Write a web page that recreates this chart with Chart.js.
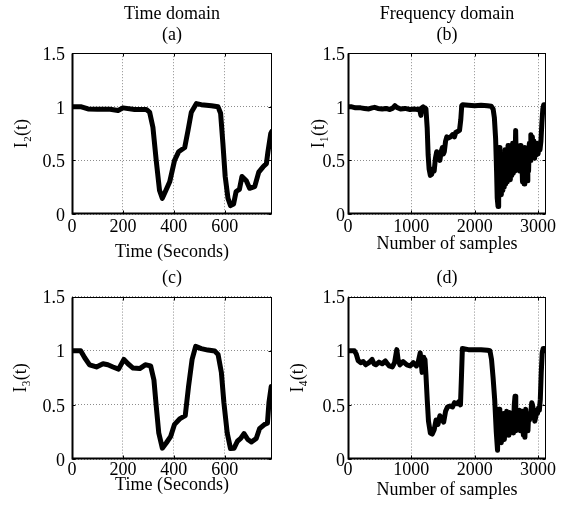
<!DOCTYPE html>
<html>
<head>
<meta charset="utf-8">
<script src="https://cdn.jsdelivr.net/npm/chart.js@4"></script>
<style>
  body { margin: 0; background: #fff; }
  #wrap { position: relative; width: 571px; height: 508px; }
  canvas { position: absolute; }
</style>
</head>
<body>
<div id="wrap">
  <canvas id="ga" width="286" height="266" style="left:0;top:0"></canvas>
  <canvas id="gb" width="285" height="266" style="left:286px;top:0"></canvas>
  <canvas id="gc" width="286" height="246" style="left:0;top:262px"></canvas>
  <canvas id="gd" width="285" height="246" style="left:286px;top:262px"></canvas>
</div>
<script>
// (a) time domain, I2(t)
const tA = [0, 37, 63, 100, 150, 181, 200, 246, 292, 305, 318, 331, 344, 355, 367, 384, 403, 419, 443, 456, 469, 489, 508, 548, 574, 584, 593, 602, 613, 623, 635, 645, 658, 668, 685, 698, 718, 734, 751, 764, 770, 781, 785];
const i2 = [1.0, 1.0, 0.98, 0.978, 0.978, 0.966, 0.99, 0.975, 0.975, 0.95, 0.81, 0.5, 0.22, 0.146, 0.21, 0.30, 0.50, 0.58, 0.62, 0.78, 0.95, 1.03, 1.02, 1.01, 1.0, 0.94, 0.66, 0.35, 0.146, 0.078, 0.093, 0.21, 0.23, 0.35, 0.31, 0.24, 0.255, 0.39, 0.44, 0.47, 0.58, 0.75, 0.77];

// (c) time domain, I3(t)
const tC = [0, 34, 50, 69, 96, 122, 141, 161, 183, 204, 220, 240, 266, 288, 309, 322, 331, 341, 355, 371, 388, 403, 423, 445, 458, 472, 486, 508, 534, 561, 574, 587, 597, 610, 623, 637, 650, 663, 676, 691, 705, 724, 737, 757, 768, 774, 783];
const i3 = [1.0, 1.0, 0.935, 0.87, 0.85, 0.88, 0.87, 0.85, 0.83, 0.92, 0.88, 0.84, 0.835, 0.87, 0.86, 0.73, 0.49, 0.24, 0.10, 0.15, 0.21, 0.32, 0.37, 0.40, 0.67, 0.92, 1.04, 1.02, 1.006, 0.997, 0.966, 0.80, 0.52, 0.24, 0.096, 0.10, 0.164, 0.19, 0.235, 0.18, 0.157, 0.19, 0.28, 0.32, 0.33, 0.52, 0.67];

// (b) frequency domain, I1(t)
const nB = [0, 60, 120, 200, 260, 330, 380, 420, 470, 540, 600, 660, 700, 740, 770, 830, 900, 980, 1040, 1100, 1130, 1150, 1165, 1185, 1200, 1215, 1230,
  1250, 1265, 1280, 1300, 1320, 1340, 1360, 1380, 1400, 1415, 1430, 1450, 1470, 1490, 1505, 1520, 1540, 1560, 1590, 1620, 1650, 1680, 1700, 1730, 1760, 1780, 1795, 1810,
  1900, 2000, 2100, 2200, 2260, 2290, 2310, 2330, 2345, 2355, 2368, 2378, 2388, 2398, 2410, 2420, 2432, 2444, 2455, 2466, 2478, 2490, 2502, 2514, 2526, 2538, 2550, 2562,
  2574, 2586, 2598, 2610, 2622, 2634, 2646, 2658, 2670, 2682, 2694, 2706, 2718, 2730, 2742, 2754, 2766, 2778, 2790, 2802, 2814, 2826, 2838, 2850, 2862, 2874, 2886, 2898,
  2910, 2922, 2934, 2946, 2958, 2970, 2985, 3000, 3015, 3030, 3045, 3060, 3075, 3090, 3110];
const i1 = [1.0, 1.0, 0.99, 0.99, 0.985, 0.98, 0.99, 0.995, 0.985, 0.98, 0.985, 0.975, 0.985, 1.01, 0.995, 0.98, 0.985, 0.975, 0.98, 0.975, 0.98, 0.92, 0.99, 1.0, 0.96, 0.99, 0.98,
  0.80, 0.55, 0.42, 0.36, 0.37, 0.42, 0.40, 0.52, 0.58, 0.55, 0.52, 0.50, 0.58, 0.62, 0.56, 0.58, 0.68, 0.72, 0.71, 0.72, 0.74, 0.72, 0.76, 0.77, 0.78, 0.88, 1.01, 1.02,
  1.015, 1.01, 1.015, 1.01, 1.005, 0.98, 0.90, 0.70, 0.40, 0.15, 0.07, 0.30, 0.62, 0.20, 0.45, 0.18, 0.55, 0.22, 0.48, 0.25, 0.60, 0.28, 0.52, 0.30, 0.64, 0.33, 0.55, 0.32,
  0.62, 0.36, 0.66, 0.38, 0.58, 0.40, 0.78, 0.42, 0.62, 0.45, 0.58, 0.40, 0.64, 0.45, 0.55, 0.30, 0.58, 0.28, 0.62, 0.35, 0.55, 0.31, 0.60, 0.40, 0.66, 0.50, 0.74, 0.60,
  0.72, 0.55, 0.68, 0.52, 0.62, 0.55, 0.66, 0.56, 0.62, 0.60, 0.68, 0.85, 0.98, 1.02, 1.02];

// (d) frequency domain, I4(t)
const nD = [0, 100, 130, 160, 200, 240, 280, 330, 380, 410, 440, 490, 540, 590, 620, 650, 700, 735, 755, 770, 790, 820, 870, 930, 980, 1030, 1080, 1110, 1140, 1160, 1170, 1185, 1195, 1205, 1215, 1230,
  1250, 1270, 1300, 1330, 1360, 1390, 1420, 1450, 1480, 1510, 1540, 1570, 1610, 1650, 1680, 1720, 1750, 1775, 1790, 1805, 1900, 2000, 2100, 2200, 2240, 2265, 2290, 2315, 2340,
  2360, 2372, 2384, 2396, 2408, 2420, 2432, 2444, 2456, 2468, 2480, 2492, 2504, 2516, 2528, 2540, 2552, 2564, 2576, 2588, 2600, 2612, 2624, 2636, 2648, 2660, 2672, 2684, 2696,
  2708, 2720, 2732, 2744, 2756, 2768, 2780, 2792, 2804, 2816, 2828, 2840, 2852, 2864, 2876, 2888, 2900, 2912, 2924, 2936, 2948, 2960, 2975, 2990, 3005, 3020, 3035, 3050, 3065,
  3080, 3100, 3115];
const i4 = [1.0, 1.0, 0.97, 0.91, 0.89, 0.90, 0.87, 0.89, 0.92, 0.88, 0.87, 0.895, 0.88, 0.905, 0.88, 0.86, 0.85, 0.89, 0.96, 1.01, 0.92, 0.87, 0.90, 0.87, 0.86, 0.89, 0.86, 0.90, 0.98, 0.86, 0.80, 0.93, 0.94, 0.82, 0.92, 0.78,
  0.55, 0.35, 0.24, 0.23, 0.27, 0.36, 0.32, 0.40, 0.37, 0.34, 0.44, 0.48, 0.49, 0.48, 0.52, 0.51, 0.53, 0.50, 0.75, 1.02, 1.01, 1.01, 1.01, 1.005, 1.0, 0.92, 0.75, 0.55, 0.25,
  0.08, 0.35, 0.46, 0.20, 0.40, 0.15, 0.38, 0.22, 0.42, 0.18, 0.35, 0.22, 0.44, 0.24, 0.40, 0.22, 0.43, 0.25, 0.40, 0.28, 0.38, 0.24, 0.50, 0.58, 0.26, 0.45, 0.28, 0.40, 0.32,
  0.45, 0.26, 0.40, 0.30, 0.44, 0.22, 0.38, 0.20, 0.46, 0.30, 0.38, 0.26, 0.42, 0.36, 0.40, 0.45, 0.52, 0.50, 0.46, 0.40, 0.35, 0.38, 0.45, 0.42, 0.47, 0.45, 0.55, 0.80, 0.98,
  1.02, 1.02, 1.0];

const yTicks = [0, 0.5, 1, 1.5];
const timeTicks = [0, 200, 400, 600];
const sampleTicks = [0, 1000, 2000, 3000];
const F = { family: '"Liberation Serif", "Times New Roman", serif', size: 18, weight: 'normal', lineHeight: 1.2 };

// box + inward ticks, like matlab axes
const boxPlugin = {
  id: 'box',
  afterDatasetsDraw(chart) {
    const { ctx, chartArea: a, scales: { x, y } } = chart;
    const L = Math.round(a.left) + 0.5, R = Math.round(a.right) - 0.5;
    const T = Math.round(a.top) + 0.5, B = Math.round(a.bottom) - 0.5;
    ctx.save();
    ctx.strokeStyle = '#000';
    ctx.lineWidth = 1;
    ctx.strokeRect(L, T, R - L, B - T);
    ctx.beginPath();
    x.ticks.forEach(t => {
      const px = Math.round(x.getPixelForValue(t.value)) + 0.5;
      ctx.moveTo(px, B); ctx.lineTo(px, B - 3);
      ctx.moveTo(px, T); ctx.lineTo(px, T + 3);
    });
    y.ticks.forEach(t => {
      const py = Math.round(y.getPixelForValue(t.value)) + 0.5;
      ctx.moveTo(L, py); ctx.lineTo(L + 3, py);
      ctx.moveTo(R, py); ctx.lineTo(R - 3, py);
    });
    ctx.stroke();
    ctx.lineWidth = 2;
    ctx.beginPath();
    ctx.moveTo(L, T); ctx.lineTo(L, B); ctx.lineTo(R, B);
    ctx.stroke();
    ctx.restore();
  }
};

function makeChart(id, xs, ys, o) {
  const pts = xs.map((x, i) => ({ x: x, y: ys[i] }));
  return new Chart(document.getElementById(id), {
    type: 'line',
    data: {
      datasets: [{
        data: pts,
        borderColor: '#000',
        borderWidth: 5,
        pointRadius: 0,
        tension: 0,
        borderJoinStyle: 'round',
        borderCapStyle: 'round'
      }]
    },
    options: {
      responsive: false,
      animation: false,
      devicePixelRatio: 1,
      layout: { padding: { left: 0, right: o.padRight, top: 0, bottom: 0 } },
      plugins: {
        legend: { display: false },
        tooltip: { enabled: false },
        title: {
          display: true, fullSize: false, text: o.title, color: '#000', font: F,
          padding: { top: o.tTop, bottom: o.tBottom }
        }
      },
      scales: {
        x: {
          type: 'linear', min: 0, max: o.xMax,
          afterFit: s => { s.height = o.xH; },
          afterBuildTicks: s => { s.ticks = o.xTicks.map(v => ({ value: v })); },
          ticks: {
            padding: o.xTickPad, color: '#000', font: F,
            maxRotation: 0, autoSkip: false, callback: v => String(v)
          },
          grid: { color: '#8c8c8c', lineWidth: 1, drawTicks: false },
          border: { display: false, dash: [1, 2] },
          title: { display: true, text: o.xTitle, color: '#000', font: F, padding: { top: 0, bottom: o.xTitlePad } }
        },
        y: {
          type: 'linear', min: 0, max: 1.5,
          afterFit: s => { s.width = o.yW; },
          afterBuildTicks: s => { s.ticks = yTicks.map(v => ({ value: v })); },
          ticks: { padding: o.yTickPad, color: '#000', font: F, labelOffset: 2, callback: v => String(v) },
          grid: { color: '#8c8c8c', lineWidth: 1, drawTicks: false },
          border: { display: false, dash: [1, 2] },
          title: { display: true, text: o.yTitle, color: '#000', font: F, padding: { top: o.yTitlePad, bottom: 0 } }
        }
      }
    },
    plugins: [boxPlugin]
  });
}

makeChart('ga', tA, i2, {
  title: ['Time domain', '(a)'], tTop: 3, tBottom: 7, xTitle: 'Time (Seconds)', xTitlePad: 3,
  xMax: 786, xTicks: timeTicks, xH: 52, xTickPad: 2, yW: 72, yTickPad: 7, yTitle: 'I\u2082(t)', yTitlePad: 11, padRight: 14
});
makeChart('gb', nB, i1, {
  title: ['Frequency domain', '(b)'], tTop: 3, tBottom: 7, xTitle: 'Number of samples', xTitlePad: 11,
  xMax: 3125, xTicks: sampleTicks, xH: 52, xTickPad: 2, yW: 62, yTickPad: 3, yTitle: 'I\u2081(t)', yTitlePad: 22, padRight: 25
});
makeChart('gc', tC, i3, {
  title: '(c)', tTop: 5, tBottom: 8, xTitle: 'Time (Seconds)', xTitlePad: 12,
  xMax: 786, xTicks: timeTicks, xH: 49, xTickPad: 0, yW: 72, yTickPad: 7, yTitle: 'I\u2083(t)', yTitlePad: 10, padRight: 14
});
makeChart('gd', nD, i4, {
  title: '(d)', tTop: 5, tBottom: 8, xTitle: 'Number of samples', xTitlePad: 7,
  xMax: 3125, xTicks: sampleTicks, xH: 49, xTickPad: 0, yW: 62, yTickPad: 3, yTitle: 'I\u2084(t)', yTitlePad: 1, padRight: 25
});
</script>
</body>
</html>
